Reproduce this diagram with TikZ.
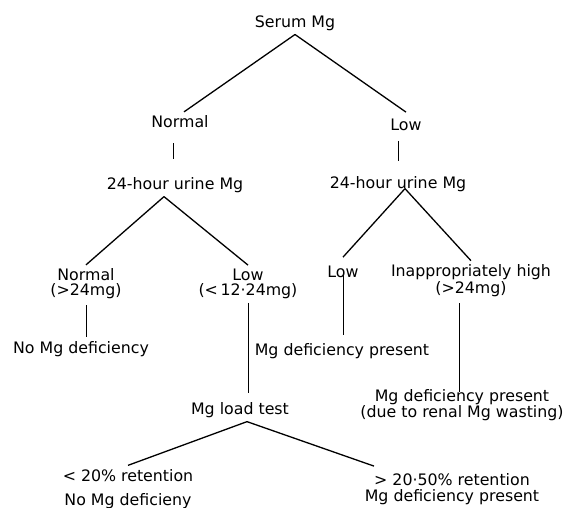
\documentclass[tikz,border=0pt]{standalone}
\usepackage{fontspec}
\setmainfont{DejaVu Sans}
\usetikzlibrary{positioning}

\begin{document}
\begin{tikzpicture}[
  x=1pt, y=-1pt,
  lbl/.style={font=\fontsize{15.8}{15}\selectfont, align=center, inner sep=2pt, outer sep=2pt},
  ln/.style={line width=1.3pt},
  tick/.style={line width=0.9pt}
]
  \useasboundingbox (0,0) rectangle (566,508);

  % Serum test
  \node[lbl] (serum) at (295,23) {Serum Mg};
  \node[lbl] (nl) at (180,122) {Normal};
  \node[lbl] (lw) at (406,125) {Low};
  \draw[ln] (serum.south) -- ([xshift=4pt]nl.north);
  \draw[ln] (serum.south) -- ([yshift=3pt]lw.north);

  % Urine tests
  \node[lbl] (ul) at (175,185) {24-hour urine Mg};
  \node[lbl] (ur) at (398,184) {24-hour urine Mg};
  \draw[tick, shorten <=11pt, shorten >=14pt] ([xshift=-2pt]ul.north |- nl.south) -- ([xshift=-2pt]ul.north);
  \draw[tick, shorten <=6pt, shorten >=11pt] (ur.north |- lw.south) -- (ur.north);

  % Left branch
  \node[lbl] (un) at (86,284) {Normal\\(>24mg)};
  \node[lbl] (ulo) at (248,284) {Low\\(<\,12·24mg)};
  \draw[ln] ([xshift=-11pt]ul.south) -- (un.north);
  \draw[ln] ([xshift=-11pt]ul.south) -- (ulo.north);

  % Right branch
  \node[lbl] (rlo) at (343,272) {Low};
  \node[lbl] (rhi) at (471,281) {Inappropriately high\\[1pt](>24mg)};
  \draw[ln] ([shift={(7pt,7pt)}]ur.south) -- ([yshift=5pt]rlo.north);
  \draw[ln] ([shift={(7pt,7pt)}]ur.south) -- (rhi.north);

  % Outcomes
  \node[lbl] (ndef) at (81,349) {No Mg deficiency};
  \node[lbl] (mdef) at (342,351) {Mg deficiency present};
  \node[lbl] (renal) at (462,405) {Mg deficiency present\\(due to renal Mg wasting)};
  \draw[tick, shorten <=2pt] (un.south) -- (un.south |- ndef.north);
  \draw[tick, shorten >=4pt] (rlo.center) -- (rlo.center |- mdef.north);
  \draw[tick, shorten <=2pt, shorten >=-7pt] ([xshift=-3pt]renal.north |- rhi.south) -- ([xshift=-3pt]renal.north);

  % Load test
  \node[lbl] (load) at (240,410) {Mg load test};
  \draw[tick, shorten >=5pt] (ulo.south) -- (ulo.south |- load.north);
  \node[lbl] (ret1) at (128,489) {< 20\% retention\\[9pt]No Mg deficieny};
  \node[lbl] (ret2) at (452,489) {> 20·50\% retention\\[1.5pt]Mg deficiency present};
  \draw[ln] ([xshift=7pt]load.south) -- (ret1.north);
  \draw[ln] ([xshift=7pt]load.south) -- ([shift={(-78pt,3pt)}]ret2.north);

\end{tikzpicture}
\end{document}
